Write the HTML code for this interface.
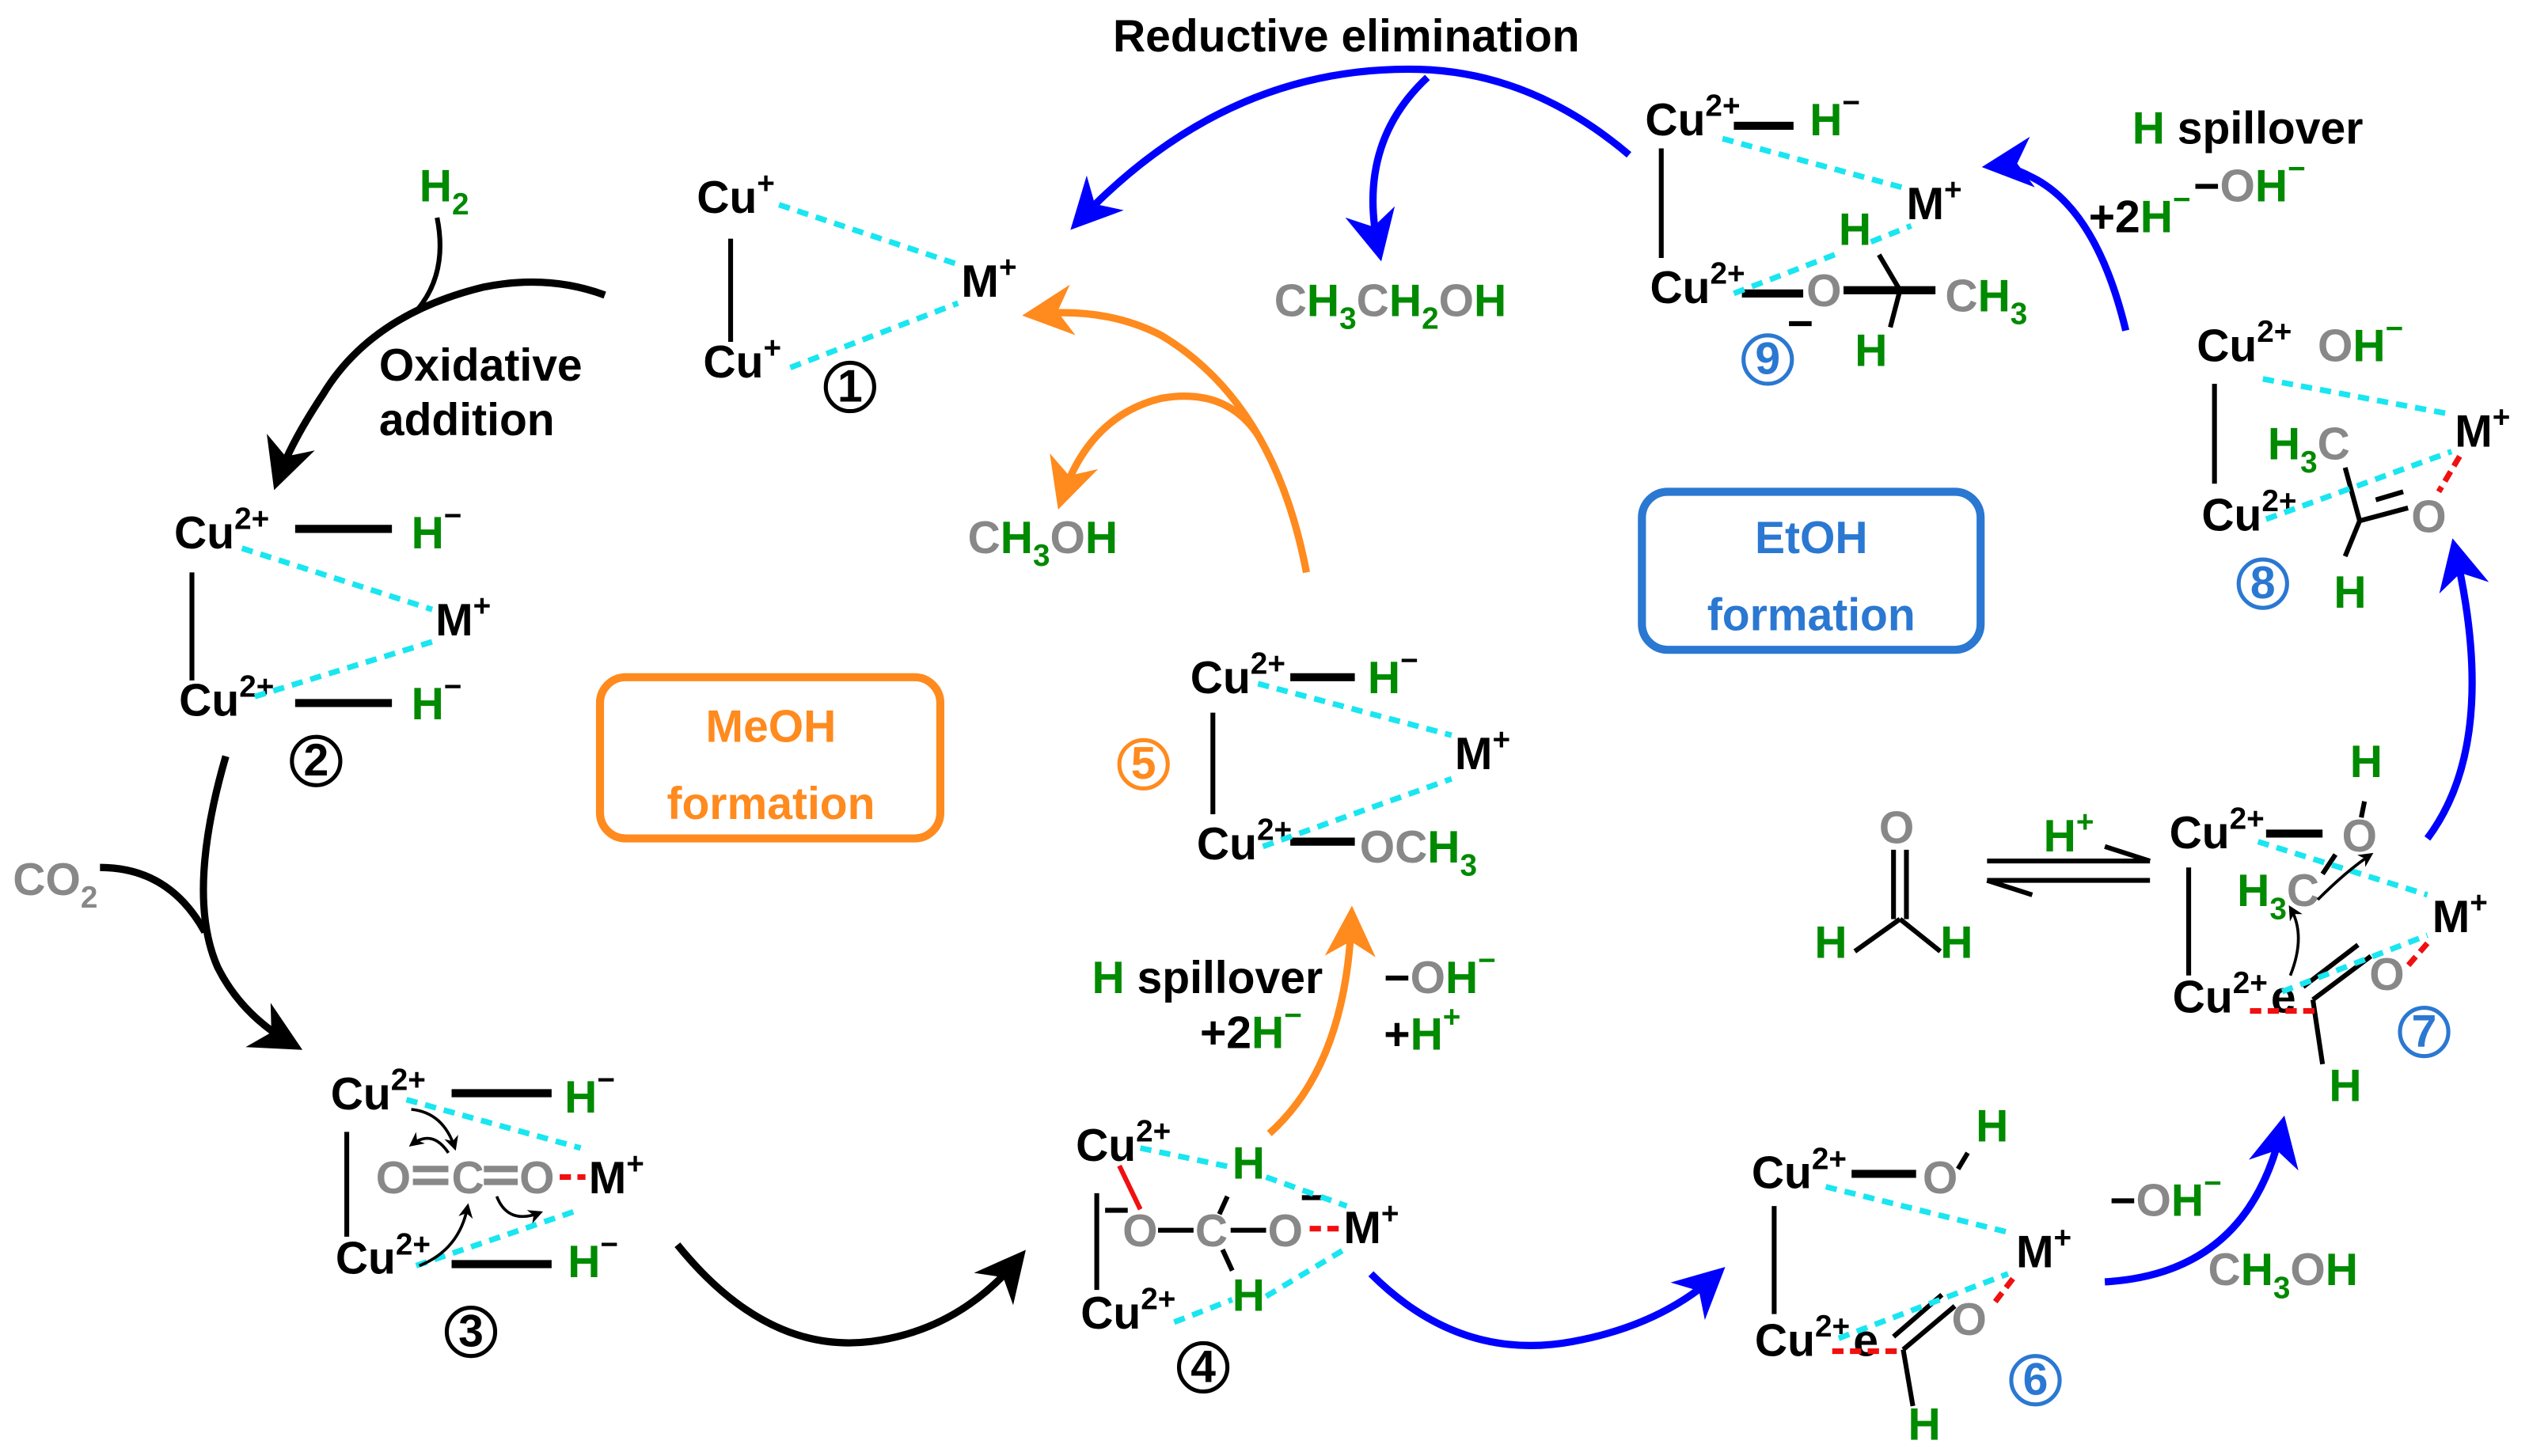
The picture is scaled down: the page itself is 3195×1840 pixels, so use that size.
<!DOCTYPE html>
<html><head><meta charset="utf-8"><style>
html,body{margin:0;padding:0;background:#fff}
svg{display:block}
text{font-family:"Liberation Sans",Arial,sans-serif;font-weight:bold;font-size:28px}
.k{fill:#000}.g{fill:#008a00}.gr{fill:#888}.bl{fill:#2a78d2}.or{fill:#ff8a1e}
.cy{stroke:#19e6f0;stroke-width:3.5;stroke-dasharray:7 5;fill:none}
.rd{stroke:#f01010;stroke-width:3.5;stroke-dasharray:7 4;fill:none}
.bd{stroke:#000;stroke-width:3;fill:none}
.bb{stroke:#000;stroke-width:5;fill:none}
.sup{font-size:19px}
</style></head><body>
<svg width="3195" height="1840" viewBox="0 0 1568 903" preserveAspectRatio="none" xmlns="http://www.w3.org/2000/svg">
<defs>
<marker id="ak" viewBox="0 0 10 10" refX="8" refY="5" markerWidth="7" markerHeight="7" orient="auto"><path d="M0,0 L10,5 L0,10 L3,5z" fill="#000"/></marker>
<marker id="ab" viewBox="0 0 10 10" refX="8" refY="5" markerWidth="7" markerHeight="7" orient="auto"><path d="M0,0 L10,5 L0,10 L3,5z" fill="#0000ff"/></marker>
<marker id="ao" viewBox="0 0 10 10" refX="8" refY="5" markerWidth="7" markerHeight="7" orient="auto"><path d="M0,0 L10,5 L0,10 L3,5z" fill="#ff8a1e"/></marker>
<marker id="as" viewBox="0 0 10 10" refX="8" refY="5" markerWidth="5" markerHeight="5" orient="auto"><path d="M0,0 L10,5 L0,10 L3,5z" fill="#000"/></marker>
</defs>

<!-- Title -->
<text x="690" y="32" font-size="27" class="k">Reductive elimination</text>

<!-- Structure 1 -->
<text x="432" y="132" class="k">Cu<tspan class="sup" dy="-12">+</tspan></text>
<line x1="453" y1="148" x2="453" y2="212" class="bd"/>
<text x="436" y="234" class="k">Cu<tspan class="sup" dy="-12">+</tspan></text>
<text x="596" y="184" class="k">M<tspan class="sup" dy="-12">+</tspan></text>
<line x1="483" y1="127" x2="594" y2="164" class="cy"/>
<line x1="490" y1="228" x2="594" y2="188" class="cy"/>
<circle cx="527" cy="240" r="15" fill="none" stroke="#000" stroke-width="2.5"/>
<text x="527" y="249" font-size="24" text-anchor="middle" class="k">1</text>

<!-- H2 and oxidative addition -->
<text x="260" y="125" class="g">H<tspan class="sup" dy="8">2</tspan></text>
<path d="M271,135 Q278,170 258,193" class="bd" stroke-width="3"/>
<path d="M375,183 Q340,170 300,178 Q230,195 200,245 Q180,275 172,298" stroke="#000" stroke-width="4.5" fill="none" marker-end="url(#ak)"/>
<text x="235" y="236" font-size="29" class="k">Oxidative</text>
<text x="235" y="270" font-size="29" class="k">addition</text>

<!-- Structure 2 -->
<text x="108" y="340" class="k">Cu<tspan class="sup" dy="-12">2+</tspan></text>
<line x1="183" y1="328" x2="243" y2="328" class="bb"/>
<text x="255" y="340" class="g">H<tspan class="sup k" dy="-14">−</tspan></text>
<line x1="119" y1="355" x2="119" y2="422" class="bd"/>
<text x="111" y="444" class="k">Cu<tspan class="sup" dy="-12">2+</tspan></text>
<line x1="183" y1="436" x2="243" y2="436" class="bb"/>
<text x="255" y="446" class="g">H<tspan class="sup k" dy="-14">−</tspan></text>
<text x="270" y="394" class="k">M<tspan class="sup" dy="-12">+</tspan></text>
<line x1="150" y1="340" x2="268" y2="378" class="cy"/>
<line x1="158" y1="432" x2="268" y2="398" class="cy"/>
<circle cx="196" cy="472" r="15" fill="none" stroke="#000" stroke-width="2.5"/>
<text x="196" y="481" font-size="24" text-anchor="middle" class="k">2</text>

<!-- CO2 arrow -->
<text x="8" y="555" class="gr">CO<tspan class="sup" dy="8">2</tspan></text>
<path d="M140,469 Q115,555 135,600 Q150,630 182,648" stroke="#000" stroke-width="4.5" fill="none" marker-end="url(#ak)"/>
<path d="M62,538 Q105,538 127,578" stroke="#000" stroke-width="4.5" fill="none"/>

<!-- MeOH box -->
<rect x="372" y="420" width="211" height="100" rx="16" fill="none" stroke="#ff8a1e" stroke-width="5"/>
<text x="478" y="460" font-size="35" text-anchor="middle" class="or">MeOH</text>
<text x="478" y="508" font-size="35" text-anchor="middle" class="or">formation</text>

<!-- Structure 3 -->
<text x="205" y="688" class="k">Cu<tspan class="sup" dy="-12">2+</tspan></text>
<line x1="280" y1="678" x2="342" y2="678" class="bb"/>
<text x="350" y="690" class="g">H<tspan class="sup k" dy="-14">−</tspan></text>
<line x1="215" y1="702" x2="215" y2="767" class="bd"/>
<text x="208" y="790" class="k">Cu<tspan class="sup" dy="-12">2+</tspan></text>
<line x1="280" y1="784" x2="342" y2="784" class="bb"/>
<text x="352" y="792" class="g">H<tspan class="sup k" dy="-14">−</tspan></text>
<text x="233" y="740" class="gr">O</text><text x="280" y="740" class="gr">C</text><text x="322" y="740" class="gr">O</text>
<line x1="256" y1="725" x2="278" y2="725" stroke="#888" stroke-width="4"/><line x1="256" y1="733" x2="278" y2="733" stroke="#888" stroke-width="4"/>
<line x1="300" y1="725" x2="321" y2="725" stroke="#888" stroke-width="4"/><line x1="300" y1="733" x2="321" y2="733" stroke="#888" stroke-width="4"/>
<text x="365" y="740" class="k">M<tspan class="sup" dy="-12">+</tspan></text>
<line x1="347" y1="730" x2="363" y2="730" class="rd"/>
<line x1="252" y1="682" x2="360" y2="712" class="cy"/>
<line x1="258" y1="785" x2="360" y2="750" class="cy"/>
<path d="M255,688 Q275,690 282,712" stroke="#000" stroke-width="1.8" fill="none" marker-end="url(#as)"/>
<path d="M278,715 Q268,700 255,710" stroke="#000" stroke-width="1.8" fill="none" marker-end="url(#as)"/>
<path d="M308,742 Q315,760 335,752" stroke="#000" stroke-width="1.8" fill="none" marker-end="url(#as)"/>
<path d="M260,785 Q285,775 290,748" stroke="#000" stroke-width="1.8" fill="none" marker-end="url(#as)"/>
<circle cx="292" cy="826" r="15" fill="none" stroke="#000" stroke-width="2.5"/>
<text x="292" y="835" font-size="24" text-anchor="middle" class="k">3</text>

<!-- 3 -> 4 arrow -->
<path d="M420,772 Q475,840 540,832 Q595,825 632,780" stroke="#000" stroke-width="4.5" fill="none" marker-end="url(#ak)"/>

<!-- Structure 4 -->
<text x="667" y="720" class="k">Cu<tspan class="sup" dy="-12">2+</tspan></text>
<line x1="680" y1="740" x2="680" y2="800" class="bd"/>
<text x="670" y="824" class="k">Cu<tspan class="sup" dy="-12">2+</tspan></text>
<text x="764" y="731" class="g">H</text>
<text x="764" y="813" class="g">H</text>
<text x="696" y="773" class="gr">O</text><text x="741" y="773" class="gr">C</text><text x="786" y="773" class="gr">O</text>
<text x="684" y="760" font-size="22" class="k">−</text>
<text x="806" y="752" font-size="22" class="k">−</text>
<line x1="718" y1="763" x2="740" y2="763" class="bd" stroke-width="4"/>
<line x1="763" y1="763" x2="785" y2="763" class="bd" stroke-width="4"/>
<line x1="761" y1="742" x2="756" y2="753" class="bd"/>
<line x1="758" y1="775" x2="764" y2="788" class="bd"/>
<line x1="694" y1="723" x2="707" y2="750" stroke="#f01010" stroke-width="3"/>
<text x="833" y="771" class="k">M<tspan class="sup" dy="-12">+</tspan></text>
<line x1="812" y1="762" x2="830" y2="762" class="rd"/>
<line x1="707" y1="712" x2="764" y2="724" class="cy"/>
<line x1="785" y1="730" x2="835" y2="748" class="cy"/>
<line x1="728" y1="820" x2="764" y2="806" class="cy"/>
<line x1="785" y1="804" x2="835" y2="774" class="cy"/>
<circle cx="746" cy="848" r="15" fill="none" stroke="#000" stroke-width="2.5"/>
<text x="746" y="857" font-size="24" text-anchor="middle" class="k">4</text>

<!-- Orange arrow 4 -> 5 -->
<path d="M787,703 Q835,660 838,568" stroke="#ff8a1e" stroke-width="4.5" fill="none" marker-end="url(#ao)"/>
<text x="677" y="616" class="g">H <tspan class="k">spillover</tspan></text>
<text x="858" y="616" class="k">−<tspan class="gr">O</tspan><tspan class="g">H</tspan><tspan class="sup g" dy="-14">−</tspan></text>
<text x="744" y="650" class="k">+2<tspan class="g">H</tspan><tspan class="sup g" dy="-14">−</tspan></text>
<text x="858" y="651" class="k">+<tspan class="g">H</tspan><tspan class="sup g" dy="-14">+</tspan></text>

<!-- Structure 5 -->
<text x="738" y="430" class="k">Cu<tspan class="sup" dy="-12">2+</tspan></text>
<line x1="800" y1="420" x2="840" y2="420" class="bb"/>
<text x="848" y="430" class="g">H<tspan class="sup k" dy="-14">−</tspan></text>
<line x1="752" y1="442" x2="752" y2="505" class="bd"/>
<text x="742" y="533" class="k">Cu<tspan class="sup" dy="-12">2+</tspan></text>
<line x1="800" y1="522" x2="840" y2="522" class="bb"/>
<text x="843" y="535" class="gr">OC<tspan class="g">H</tspan><tspan class="sup g" dy="8">3</tspan></text>
<text x="902" y="477" class="k">M<tspan class="sup" dy="-12">+</tspan></text>
<line x1="780" y1="424" x2="900" y2="456" class="cy"/>
<line x1="783" y1="525" x2="900" y2="483" class="cy"/>
<circle cx="709" cy="474" r="15" fill="none" stroke="#ff8a1e" stroke-width="2.5"/>
<text x="709" y="483" font-size="24" text-anchor="middle" class="or">5</text>

<!-- Orange arrows 5 -> 1 -->
<path d="M810,355 Q790,250 720,208 Q685,190 640,195" stroke="#ff8a1e" stroke-width="4.5" fill="none" marker-end="url(#ao)"/>
<path d="M780,270 Q760,240 720,247 Q675,258 658,310" stroke="#ff8a1e" stroke-width="4.5" fill="none" marker-end="url(#ao)"/>
<text x="600" y="343" class="gr">C<tspan class="g">H</tspan><tspan class="sup g" dy="8">3</tspan><tspan dy="-8">O</tspan><tspan class="g">H</tspan></text>

<!-- Reductive elimination arrows -->
<path d="M1010,96 Q950,45 880,43 Q760,40 668,138" stroke="#0000ff" stroke-width="4.5" fill="none" marker-end="url(#ab)"/>
<path d="M885,48 Q840,90 855,156" stroke="#0000ff" stroke-width="4.5" fill="none" marker-end="url(#ab)"/>
<text x="790" y="196" class="gr">C<tspan class="g">H</tspan><tspan class="sup g" dy="8">3</tspan><tspan dy="-8">C</tspan><tspan class="g">H</tspan><tspan class="sup g" dy="8">2</tspan><tspan dy="-8">O</tspan><tspan class="g">H</tspan></text>

<!-- Structure 9 -->
<text x="1020" y="84" class="k">Cu<tspan class="sup" dy="-12">2+</tspan></text>
<line x1="1075" y1="78" x2="1112" y2="78" class="bb"/>
<text x="1122" y="84" class="g">H<tspan class="sup k" dy="-14">−</tspan></text>
<line x1="1030" y1="92" x2="1030" y2="160" class="bd"/>
<text x="1023" y="188" class="k">Cu<tspan class="sup" dy="-12">2+</tspan></text>
<line x1="1080" y1="182" x2="1118" y2="182" class="bb"/>
<text x="1120" y="190" class="gr">O</text>
<text x="1108" y="210" font-size="22" class="k">−</text>
<line x1="1143" y1="180" x2="1200" y2="180" class="bb"/>
<line x1="1165" y1="158" x2="1178" y2="180" class="bd" stroke-width="4"/>
<line x1="1178" y1="180" x2="1172" y2="203" class="bd" stroke-width="4"/>
<text x="1206" y="193" class="gr">C<tspan class="g">H</tspan><tspan class="sup g" dy="8">3</tspan></text>
<text x="1140" y="152" class="g">H</text>
<text x="1150" y="227" class="g">H</text>
<text x="1182" y="136" class="k">M<tspan class="sup" dy="-12">+</tspan></text>
<line x1="1068" y1="86" x2="1182" y2="117" class="cy"/>
<line x1="1075" y1="182" x2="1140" y2="157" class="cy"/>
<line x1="1160" y1="150" x2="1185" y2="140" class="cy"/>
<circle cx="1096" cy="223" r="15" fill="none" stroke="#2a78d2" stroke-width="2.5"/>
<text x="1096" y="232" font-size="24" text-anchor="middle" class="bl">9</text>

<!-- H spillover arrow 8 -> 9 -->
<path d="M1318,205 Q1300,130 1260,110 Q1245,102 1235,103" stroke="#0000ff" stroke-width="4.5" fill="none" marker-end="url(#ab)"/>
<text x="1322" y="89" class="g">H <tspan class="k">spillover</tspan></text>
<text x="1360" y="125" class="k">−<tspan class="gr">O</tspan><tspan class="g">H</tspan><tspan class="sup g" dy="-14">−</tspan></text>
<text x="1295" y="144" class="k">+2<tspan class="g">H</tspan><tspan class="sup g" dy="-14">−</tspan></text>

<!-- EtOH box -->
<rect x="1018" y="305" width="210" height="98" rx="16" fill="none" stroke="#2a78d2" stroke-width="5"/>
<text x="1123" y="343" font-size="35" text-anchor="middle" class="bl">EtOH</text>
<text x="1123" y="391" font-size="35" text-anchor="middle" class="bl">formation</text>

<!-- Structure 8 -->
<text x="1362" y="224" class="k">Cu<tspan class="sup" dy="-12">2+</tspan></text>
<text x="1437" y="224" class="gr">O<tspan class="g">H</tspan><tspan class="sup g" dy="-14">−</tspan></text>
<line x1="1373" y1="238" x2="1373" y2="300" class="bd"/>
<text x="1365" y="329" class="k">Cu<tspan class="sup" dy="-12">2+</tspan></text>
<text x="1406" y="285" class="g">H<tspan class="sup" dy="8">3</tspan><tspan class="gr" dy="-8">C</tspan></text>
<line x1="1454" y1="290" x2="1463" y2="323" class="bd" stroke-width="4"/>
<line x1="1463" y1="323" x2="1454" y2="345" class="bd" stroke-width="4"/>
<line x1="1463" y1="323" x2="1493" y2="315" class="bd" stroke-width="4"/>
<line x1="1473" y1="310" x2="1490" y2="305" class="bd" stroke-width="4"/>
<text x="1495" y="330" class="gr">O</text>
<text x="1522" y="277" class="k">M<tspan class="sup" dy="-12">+</tspan></text>
<line x1="1403" y1="235" x2="1520" y2="257" class="cy"/>
<line x1="1405" y1="322" x2="1520" y2="280" class="cy"/>
<line x1="1525" y1="283" x2="1512" y2="305" class="rd"/>
<text x="1447" y="377" class="g">H</text>
<circle cx="1403" cy="362" r="15" fill="none" stroke="#2a78d2" stroke-width="2.5"/>
<text x="1403" y="371" font-size="24" text-anchor="middle" class="bl">8</text>

<!-- Blue arrow 7 -> 8 -->
<path d="M1505,520 Q1550,460 1522,340" stroke="#0000ff" stroke-width="4.5" fill="none" marker-end="url(#ab)"/>

<!-- Formaldehyde -->
<text x="1165" y="523" class="gr">O</text>
<line x1="1174" y1="527" x2="1174" y2="570" class="bd" stroke-width="4"/>
<line x1="1182" y1="527" x2="1182" y2="570" class="bd" stroke-width="4"/>
<line x1="1178" y1="570" x2="1150" y2="590" class="bd" stroke-width="4"/>
<line x1="1178" y1="570" x2="1203" y2="590" class="bd" stroke-width="4"/>
<text x="1125" y="594" class="g">H</text>
<text x="1203" y="594" class="g">H</text>
<!-- Equilibrium -->
<line x1="1232" y1="534" x2="1333" y2="534" stroke="#000" stroke-width="3"/>
<path d="M1333,534 L1305,525" stroke="#000" stroke-width="3" fill="none"/>
<line x1="1232" y1="546" x2="1333" y2="546" stroke="#000" stroke-width="3"/>
<path d="M1232,546 L1260,555" stroke="#000" stroke-width="3" fill="none"/>
<text x="1267" y="528" class="g">H<tspan class="sup" dy="-12">+</tspan></text>

<!-- Structure 7 -->
<text x="1345" y="526" class="k">Cu<tspan class="sup" dy="-12">2+</tspan></text>
<line x1="1405" y1="517" x2="1440" y2="517" class="bb"/>
<text x="1452" y="528" class="gr">O</text>
<line x1="1466" y1="497" x2="1464" y2="507" class="bd" stroke-width="3.5"/>
<text x="1457" y="482" class="g">H</text>
<line x1="1357" y1="538" x2="1357" y2="605" class="bd"/>
<text x="1347" y="628" class="k">Cu<tspan class="sup" dy="-12">2+</tspan><tspan dx="2" dy="12">e</tspan></text>
<text x="1387" y="562" class="g">H<tspan class="sup" dy="8">3</tspan><tspan class="gr" dy="-8">C</tspan></text>
<line x1="1448" y1="530" x2="1440" y2="542" class="bd" stroke-width="4"/>
<line x1="1434" y1="620" x2="1470" y2="593" class="bd" stroke-width="4"/>
<line x1="1428" y1="612" x2="1462" y2="586" class="bd" stroke-width="4"/>
<line x1="1434" y1="620" x2="1440" y2="660" class="bd" stroke-width="4"/>
<text x="1469" y="614" class="gr">O</text>
<text x="1508" y="578" class="k">M<tspan class="sup" dy="-12">+</tspan></text>
<line x1="1400" y1="522" x2="1505" y2="555" class="cy"/>
<line x1="1415" y1="615" x2="1505" y2="580" class="cy"/>
<line x1="1395" y1="627" x2="1435" y2="627" class="rd"/>
<line x1="1505" y1="585" x2="1492" y2="600" class="rd"/>
<path d="M1437,558 Q1455,540 1470,530" stroke="#000" stroke-width="1.8" fill="none" marker-end="url(#as)"/>
<path d="M1420,605 Q1430,580 1420,563" stroke="#000" stroke-width="1.8" fill="none" marker-end="url(#as)"/>
<text x="1444" y="683" class="g">H</text>
<circle cx="1503" cy="640" r="15" fill="none" stroke="#2a78d2" stroke-width="2.5"/>
<text x="1503" y="649" font-size="24" text-anchor="middle" class="bl">7</text>

<!-- Blue arrow 4 -> 6 -->
<path d="M850,790 Q905,845 975,832 Q1030,822 1065,790" stroke="#0000ff" stroke-width="4.5" fill="none" marker-end="url(#ab)"/>

<!-- Structure 6 -->
<text x="1086" y="737" class="k">Cu<tspan class="sup" dy="-12">2+</tspan></text>
<line x1="1148" y1="728" x2="1188" y2="728" class="bb"/>
<text x="1192" y="740" class="gr">O</text>
<line x1="1220" y1="715" x2="1214" y2="725" class="bd" stroke-width="3.5"/>
<text x="1225" y="708" class="g">H</text>
<line x1="1100" y1="748" x2="1100" y2="815" class="bd"/>
<text x="1088" y="841" class="k">Cu<tspan class="sup" dy="-12">2+</tspan><tspan dx="2" dy="12">e</tspan></text>
<line x1="1180" y1="837" x2="1212" y2="810" class="bd" stroke-width="4"/>
<line x1="1174" y1="829" x2="1204" y2="803" class="bd" stroke-width="4"/>
<line x1="1180" y1="837" x2="1186" y2="872" class="bd" stroke-width="4"/>
<text x="1210" y="828" class="gr">O</text>
<text x="1250" y="786" class="k">M<tspan class="sup" dy="-12">+</tspan></text>
<line x1="1132" y1="736" x2="1248" y2="765" class="cy"/>
<line x1="1140" y1="830" x2="1245" y2="790" class="cy"/>
<line x1="1136" y1="838" x2="1180" y2="838" class="rd"/>
<line x1="1248" y1="793" x2="1235" y2="810" class="rd"/>
<text x="1183" y="893" class="g">H</text>
<circle cx="1262" cy="856" r="15" fill="none" stroke="#2a78d2" stroke-width="2.5"/>
<text x="1262" y="865" font-size="24" text-anchor="middle" class="bl">6</text>

<!-- Blue arrow 6 -> 7 -->
<path d="M1305,795 Q1395,790 1415,698" stroke="#0000ff" stroke-width="4.5" fill="none" marker-end="url(#ab)"/>
<text x="1308" y="754" class="k">−<tspan class="gr">O</tspan><tspan class="g">H</tspan><tspan class="sup g" dy="-14">−</tspan></text>
<text x="1369" y="797" class="gr">C<tspan class="g">H</tspan><tspan class="sup g" dy="8">3</tspan><tspan dy="-8">O</tspan><tspan class="g">H</tspan></text>
</svg>
</body></html>
